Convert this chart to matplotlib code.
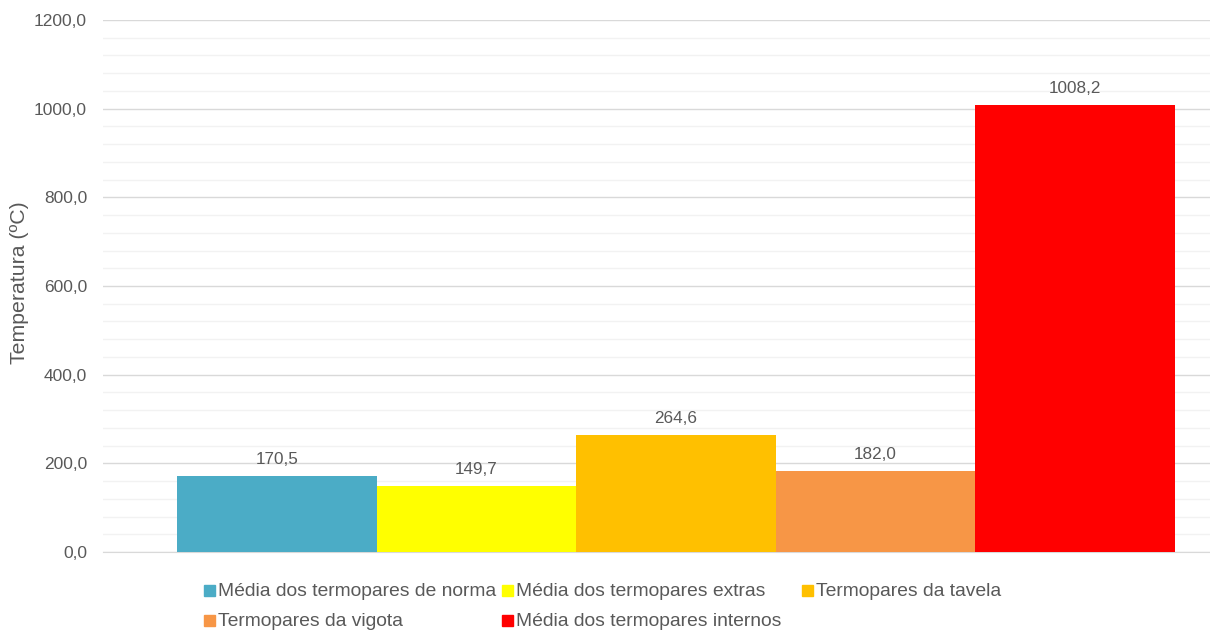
import matplotlib.pyplot as plt
from matplotlib.patches import Rectangle
from matplotlib.ticker import MultipleLocator, FuncFormatter

# dados
series = ['Média dos termopares de norma', 'Média dos termopares extras',
          'Termopares da tavela', 'Termopares da vigota',
          'Média dos termopares internos']
valores = [170.5, 149.7, 264.6, 182.0, 1008.2]
cores = ['#4BACC6', '#FFFF00', '#FFC000', '#F79646', '#FF0000']

W, H = 1210, 634
cinza = '#595959'
plt.rcParams['font.family'] = ['Liberation Sans', 'DejaVu Sans']

fig = plt.figure(figsize=(W / 100, H / 100), dpi=100)
ax = fig.add_axes([103 / W, 1 - 552 / H, (1210 - 103) / W, (552 - 20) / H])

pos = list(range(len(valores)))
barras = ax.bar(pos, valores, width=1.0, color=cores, zorder=3)
for b, v in zip(barras, valores):
    ax.annotate(f'{v:.1f}'.replace('.', ','),
                (b.get_x() + b.get_width() / 2, v),
                xytext=(0, 6.5), textcoords='offset points',
                ha='center', va='bottom', fontsize=12.3, color=cinza)

ax.set_xlim(-0.871, 4.675)
ax.set_ylim(0, 1200)
ax.yaxis.set_major_locator(MultipleLocator(200))
ax.yaxis.set_minor_locator(MultipleLocator(40))
ax.yaxis.set_major_formatter(FuncFormatter(lambda v, p: f'{v:.1f}'.replace('.', ',')))
ax.grid(axis='y', which='major', color='#D9D9D9', linewidth=1.0, zorder=0)
ax.grid(axis='y', which='minor', color='#F2F2F2', linewidth=1.0, zorder=0)
ax.set_xticks([])
ax.tick_params(axis='y', which='both', length=0, labelsize=12.5, labelcolor=cinza, pad=11.5)
for s in ['top', 'right', 'left']:
    ax.spines[s].set_visible(False)
ax.spines['bottom'].set_color('#D9D9D9')

fig.text(20 / W, 1 - 283 / H, 'Temperatura (ºC)', rotation=90, ha='center', va='center',
         fontsize=15.3, color=cinza)

# legenda em duas linhas
leg_pos = [(205, 591), (503, 591), (803, 591), (205, 621), (503, 621)]
for (x, y), nome, c in zip(leg_pos, series, cores):
    fig.add_artist(Rectangle(((x - 1) / W, 1 - (y + 5) / H), 11 / W, 11 / H,
                             transform=fig.transFigure, color=c))
    fig.text((x + 13) / W, 1 - y / H, nome, ha='left', va='center',
             fontsize=13.9, color=cinza)

fig.savefig('out.png', dpi=100)
